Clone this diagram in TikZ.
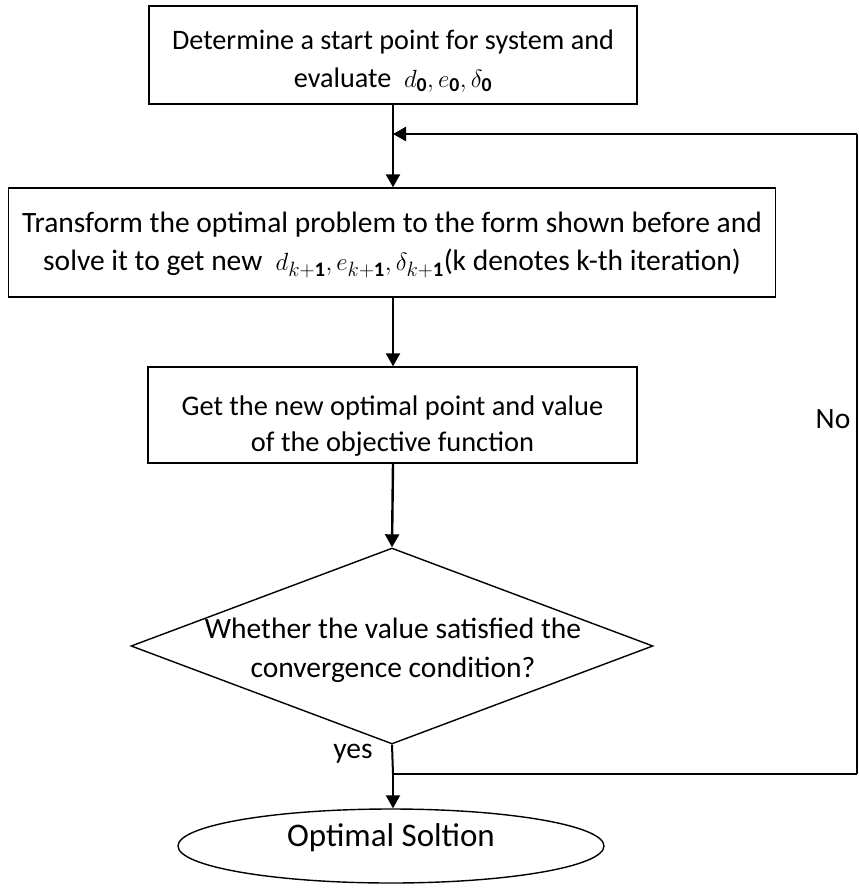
\documentclass[tikz,border=0pt]{standalone}
\usepackage{fontspec}
\setmainfont{Carlito}
\usetikzlibrary{arrows.meta,shapes.geometric}
\begin{document}
\begin{tikzpicture}[x=1pt,y=-1pt,
  procbox/.style={draw,line width=1.4pt,rectangle,inner sep=0pt},
  boxtext/.style={align=center,inner sep=0pt},
  conn/.style={line width=2.4pt,-{Triangle[length=13pt,width=14pt]}},
  thinline/.style={line width=1.5pt},
  lbl/.style={font=\fontsize{29.5}{33}\selectfont,inner sep=0pt}]
\useasboundingbox (0,0) rectangle (859,892);
% shapes
\node[procbox,minimum width=488pt,minimum height=98pt] (b1) at (393,55) {};
\node[procbox,minimum width=767pt,minimum height=109pt] (b2) at (392,242.5) {};
\node[procbox,minimum width=489pt,minimum height=96pt] (b3) at (392.5,415) {};
\node[draw,line width=1.4pt,diamond,minimum width=522pt,minimum height=196pt,inner sep=0pt] (dec) at (392,646) {};
\node[draw,line width=1.4pt,ellipse,minimum width=426pt,minimum height=74pt,inner sep=0pt] (end) at (391,846) {};
% texts
\node[boxtext,font=\fontsize{28.2}{38}\selectfont] (t1) at (393,61)
  {Determine a start point for system and\\evaluate\ \ $d_{\mathbf{0}},e_{\mathbf{0}},\delta_{\mathbf{0}}$};
\node[boxtext,font=\fontsize{29.5}{38}\selectfont] (t2) at (392,245)
  {Transform the optimal problem to the form shown before and\\solve it to get new\ \ $d_{k+\mathbf{1}},e_{k+\mathbf{1}},\delta_{k+\mathbf{1}}$(k denotes k-th iteration)};
\node[boxtext,font=\fontsize{28.4}{36}\selectfont] (t3) at (392.5,426)
  {Get the new optimal point and value\\of the objective function};
\node[boxtext,font=\fontsize{29.5}{39}\selectfont] (t4) at (393,650)
  {Whether the value satisfied the\\convergence condition?};
\node[boxtext,font=\fontsize{33}{36}\selectfont] (t5) at (391,838) {Optimal Soltion};
% connectors
\coordinate (fbtop) at (857,134);
\coordinate (fbbot) at (857,774);
\coordinate (join) at (393,134);
\coordinate (split) at (393,774);
\draw[line width=2.4pt] (b1.south) -- (join);
\draw[conn] (join) -- (join |- b2.north);
\draw[conn] (fbtop) -- (join);
\draw[thinline] (fbbot) -- (fbtop);
\draw[conn] (393,0 |- b2.south) -- (393,0 |- b3.north);
\draw[conn] (393,0 |- b3.south) -- (dec.north);
\draw[line width=2pt] (dec.south) -- (split);
\draw[thinline] (split) -- (fbbot);
\draw[line width=2pt,-{Triangle[length=13pt,width=14pt]}] (split) -- (split |- end.north);
\node[lbl] (yes) at (353,754) {yes};
\node[lbl] (no) at (833,419) {No};
\end{tikzpicture}
\end{document}
